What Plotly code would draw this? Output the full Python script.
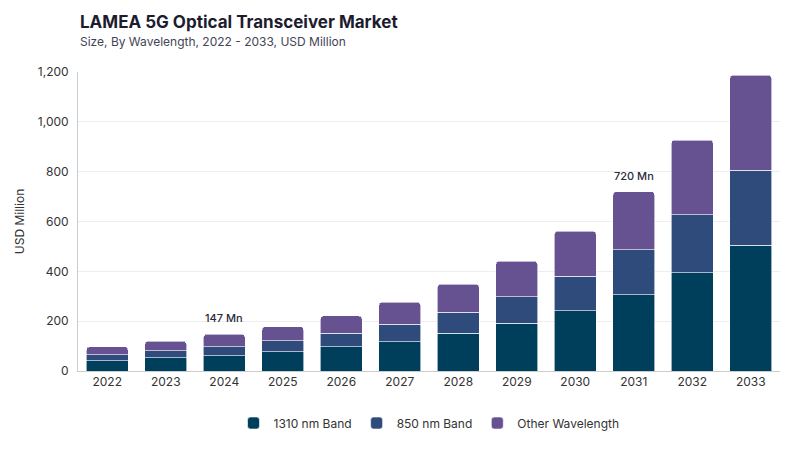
import plotly.graph_objects as go

years = ["2022", "2023", "2024", "2025", "2026", "2027", "2028", "2029", "2030", "2031", "2032", "2033"]
band_1310 = [41, 54, 62, 78, 98, 118, 151, 191, 242, 307, 394, 504]
band_850 = [24, 28, 36, 44, 53, 70, 85, 107, 138, 180, 234, 301]
other_wl = [32, 37, 49, 56, 70, 88, 112, 142, 181, 233, 299, 382]

callout_years = ["2024", "2031"]
callout_text = ["147 Mn", "720 Mn"]

colors = ["#003f5c", "#2f4b7c", "#665191"]
font_family = "Inter, 'Open Sans', sans-serif"

fig = go.Figure()
for name, vals, col in [("1310 nm Band", band_1310, colors[0]),
                        ("850 nm Band", band_850, colors[1]),
                        ("Other Wavelength", other_wl, colors[2])]:
    fig.add_trace(go.Bar(name=name, x=years, y=vals, marker_color=col,
                         marker_line=dict(color="white", width=0.6)))

totals = [a + b + c for a, b, c in zip(band_1310, band_850, other_wl)]
for yr, txt in zip(callout_years, callout_text):
    i = years.index(yr)  # category index, a "2024" string would be read as a number
    fig.add_annotation(x=i, y=totals[i], text=txt, showarrow=False,
                       yanchor="bottom", yshift=7,
                       font=dict(size=11, color="#2b2b3a", family=font_family, weight=500))

# title + subtitle
fig.add_annotation(xref="paper", yref="paper", x=0, y=1.167, xanchor="left", yanchor="middle",
                   text="<b>LAMEA 5G Optical Transceiver Market</b>", showarrow=False,
                   font=dict(size=17, color="#1c1c2e", family=font_family))
fig.add_annotation(xref="paper", yref="paper", x=0, y=1.103, xanchor="left", yanchor="middle",
                   text="Size, By Wavelength, 2022 - 2033, USD Million", showarrow=False,
                   font=dict(size=12, color="#444455", family=font_family))

fig.update_layout(
    width=800, height=450,
    barmode="stack", bargap=0.29, barcornerradius=3,
    plot_bgcolor="white", paper_bgcolor="white",
    margin=dict(l=70, r=28, t=64, b=87),
    font=dict(family=font_family, size=12, color="#333333"),
    showlegend=True,
    legend=dict(orientation="h", x=0.5, xanchor="center", y=-0.174, yanchor="middle",
                font=dict(size=12, color="#333333"), traceorder="normal", itemwidth=30),
    xaxis=dict(type="category", range=[-0.5, 11.5], showline=True, linecolor="#cccccc",
               linewidth=1, ticks="", tickfont=dict(size=12, color="#333333")),
    yaxis=dict(range=[0, 1200], dtick=200, tickformat=",", showgrid=True,
               gridcolor="#eeeeee", showline=True, linecolor="#cccccc", zeroline=False,
               title=dict(text="USD Million", font=dict(size=12, color="#333333"), standoff=10),
               ticks="outside", ticklen=6, tickcolor="white",
               tickfont=dict(size=12, color="#333333")),
)

fig.write_html("out.html")
